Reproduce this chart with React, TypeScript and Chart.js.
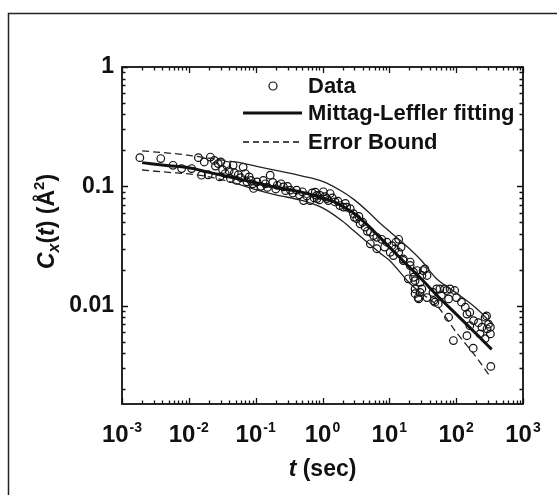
import React, { useEffect, useRef } from "react";
import { Chart, registerables } from "chart.js";
Chart.register(...registerables);

// ---- data ----
const dataT = [
  0.00185, 0.0038, 0.0058, 0.0078, 0.011, 0.0139, 0.021, 0.0155, 0.0195, 0.0275, 0.037, 0.046, 0.029, 0.042, 0.065, 0.052, 0.093, 0.074,
  0.024, 0.032, 0.035, 0.040, 0.048, 0.055, 0.06, 0.07, 0.08, 0.085, 0.09, 0.025, 0.017, 0.03,
  0.105, 0.13, 0.165, 0.21, 0.26, 0.33, 0.41, 0.52, 0.65, 0.82, 1.03, 1.16,
  0.12, 0.14, 0.15, 0.18, 0.2, 0.24, 0.28, 0.3, 0.36, 0.45, 0.5, 0.58, 0.7, 0.75, 0.9,
  0.78, 0.92, 1.09, 1.22, 1.54, 1.82, 2.05, 2.3, 2.6, 2.9, 3.26, 3.66, 4.35, 5.2, 5.8, 6.5, 7.7, 9.2, 10.9, 12.3, 13.8, 13.8, 16.2, 20.5, 26, 30.7,
  5.2, 6.5, 1.3, 0.83, 10.3, 11.5, 23, 28.8, 30.7,
  1.4, 1.7, 2.2, 3.0, 3.5, 4.0, 4.7, 8.5, 12.5, 15,
  16.2, 20.5, 24.3, 24.3, 28.8, 19.2, 23, 27.5, 32, 36.6, 46, 54, 72,
  34, 24.3, 27, 36.6, 45, 51, 57, 67, 81, 95, 101, 77, 60, 48, 120, 137, 160, 145, 182, 215, 243, 290, 305, 271, 325, 228, 160, 271, 285, 325,
  77, 91, 145, 180, 330,
];
const dataC = [
  0.174, 0.171, 0.150, 0.141, 0.141, 0.174, 0.176, 0.124, 0.125, 0.155, 0.150, 0.150, 0.120, 0.116, 0.145, 0.112, 0.096, 0.109,
  0.165, 0.138, 0.128, 0.135, 0.130, 0.125, 0.118, 0.128, 0.120, 0.112, 0.105, 0.148, 0.160, 0.160,
  0.109, 0.112, 0.124, 0.102, 0.099, 0.093, 0.093, 0.076, 0.076, 0.084, 0.090, 0.079,
  0.100, 0.105, 0.098, 0.108, 0.095, 0.105, 0.092, 0.100, 0.088, 0.085, 0.090, 0.083, 0.088, 0.080, 0.077,
  0.0895, 0.084, 0.082, 0.076, 0.074, 0.069, 0.067, 0.067, 0.065, 0.059, 0.0535, 0.0485, 0.0455, 0.0413, 0.0387, 0.0374, 0.036, 0.034, 0.0318, 0.030, 0.036, 0.028, 0.0246, 0.0232, 0.0197, 0.0179,
  0.033, 0.030, 0.087, 0.079, 0.028, 0.0263, 0.0191, 0.0157, 0.0138,
  0.080, 0.075, 0.072, 0.055, 0.056, 0.050, 0.042, 0.031, 0.034, 0.031,
  0.0239, 0.0217, 0.0162, 0.0126, 0.0129, 0.0168, 0.0173, 0.0114, 0.0197, 0.0179, 0.0110, 0.0104, 0.0134,
  0.0203, 0.0138, 0.0117, 0.0117, 0.0129, 0.0138, 0.0138, 0.0138, 0.0138, 0.0134, 0.0117, 0.0114, 0.0122, 0.0107, 0.0107, 0.0097, 0.0088, 0.0085, 0.0075, 0.0072, 0.0066, 0.0064, 0.0070, 0.0080, 0.0058, 0.0058, 0.0068, 0.0053, 0.0082, 0.0066,
  0.0080, 0.0051, 0.0056, 0.0044, 0.0031,
];

const fitT = [0.002, 0.005, 0.01, 0.02, 0.05, 0.1, 0.2, 0.5, 1, 1.5, 2, 3, 5, 7, 10, 20, 30, 50, 100, 200, 340];
const fitC = [0.158, 0.149, 0.143, 0.131, 0.117, 0.107, 0.098, 0.089, 0.080, 0.074, 0.068, 0.059, 0.046, 0.038, 0.031, 0.021, 0.0168, 0.0124, 0.0085, 0.0058, 0.0043];

const upperT = [0.002, 0.005, 0.01, 0.02, 0.05, 0.1, 0.2, 0.5, 1, 2, 3, 5, 7, 10, 20, 30, 50, 100, 200, 330];
const upperC = [0.198, 0.19, 0.182, 0.172, 0.16, 0.148, 0.136, 0.122, 0.11, 0.09, 0.077, 0.06, 0.05, 0.042, 0.03, 0.024, 0.017, 0.0128, 0.0095, 0.0072];

const lowerT = [0.002, 0.005, 0.01, 0.02, 0.05, 0.1, 0.2, 0.5, 1, 2, 3, 5, 7, 10, 20, 30, 50, 100, 200, 330];
const lowerC = [0.137, 0.131, 0.127, 0.12, 0.106, 0.094, 0.085, 0.076, 0.066, 0.051, 0.042, 0.033, 0.028, 0.024, 0.0155, 0.0127, 0.0102, 0.006, 0.0037, 0.0025];

const xTickExponents = ["-3", "-2", "-1", "0", "1", "2", "3"];
const yTickValues = [1, 0.1, 0.01];
const yTickLabels = ["1", "0.1", "0.01"];
const legendLabels = ["Data", "Mittag-Leffler fitting", "Error Bound"];

const X_MIN = 0.001, X_MAX = 1000, Y_MIN = 0.0015, Y_MAX = 1;
const FONT = "'Liberation Sans', Arial, sans-serif";

const pts = (xs: number[], ys: number[]) => xs.map((x, i) => ({ x, y: ys[i] }));

const decor = {
  id: "decor",
  afterDraw(chart: any) {
    const ctx = chart.ctx as CanvasRenderingContext2D;
    const { left, right, top, bottom } = chart.chartArea;
    const xs = chart.scales.x, ys = chart.scales.y;
    ctx.save();
    // outer frame
    ctx.strokeStyle = "#222";
    ctx.lineWidth = 1.5;
    ctx.beginPath();
    ctx.moveTo(8.5, 495);
    ctx.lineTo(8.5, 13.5);
    ctx.lineTo(557, 13.5);
    ctx.stroke();
    // axes box
    ctx.strokeStyle = "#111";
    ctx.lineWidth = 1.8;
    ctx.strokeRect(left, top, right - left, bottom - top);
    // ticks
    ctx.lineWidth = 1.3;
    ctx.beginPath();
    for (let e = -3; e <= 3; e++) {
      for (let m = 1; m <= 9; m++) {
        const v = m * Math.pow(10, e);
        if (v < X_MIN * 0.999 || v > X_MAX * 1.001) continue;
        const px = Math.round(xs.getPixelForValue(v)) + 0.5;
        const len = m === 1 ? 6 : 3.5;
        ctx.moveTo(px, bottom); ctx.lineTo(px, bottom - len);
        ctx.moveTo(px, top); ctx.lineTo(px, top + len);
      }
    }
    for (let e = -3; e <= 0; e++) {
      for (let m = 1; m <= 9; m++) {
        const v = m * Math.pow(10, e);
        if (v < Y_MIN || v > Y_MAX * 1.001) continue;
        const py = Math.round(ys.getPixelForValue(v)) + 0.5;
        const len = m === 1 ? 6 : 3.5;
        ctx.moveTo(left, py); ctx.lineTo(left + len, py);
        ctx.moveTo(right, py); ctx.lineTo(right - len, py);
      }
    }
    ctx.stroke();
    // x tick labels
    ctx.fillStyle = "#111";
    ctx.textBaseline = "alphabetic";
    ctx.textAlign = "left";
    xTickExponents.forEach((ex) => {
      const px = xs.getPixelForValue(Math.pow(10, Number(ex)));
      ctx.font = `bold 24px ${FONT}`;
      const w10 = ctx.measureText("10").width;
      ctx.font = `bold 14px ${FONT}`;
      const we = ctx.measureText(ex).width;
      const x0 = px - (w10 + we + 1) / 2;
      ctx.font = `bold 24px ${FONT}`;
      ctx.fillText("10", x0, 442);
      ctx.font = `bold 14px ${FONT}`;
      ctx.fillText(ex, x0 + w10 + 1, 432);
    });
    // y tick labels
    ctx.font = `bold 23px ${FONT}`;
    ctx.textAlign = "right";
    ctx.textBaseline = "middle";
    yTickValues.forEach((v, i) => {
      const py = ys.getPixelForValue(v);
      ctx.fillText(yTickLabels[i], left - 8, py);
    });
    // x title
    ctx.textBaseline = "alphabetic";
    ctx.textAlign = "left";
    ctx.font = `italic bold 23px ${FONT}`;
    const wt = ctx.measureText("t").width;
    ctx.font = `bold 23px ${FONT}`;
    const ws = ctx.measureText(" (sec)").width;
    const xt0 = (left + right) / 2 - (wt + ws) / 2;
    ctx.font = `italic bold 23px ${FONT}`;
    ctx.fillText("t", xt0, 476);
    ctx.font = `bold 23px ${FONT}`;
    ctx.fillText(" (sec)", xt0 + wt, 476);
    // y title (rotated)
    const segs: [string, string, number][] = [
      ["C", `italic bold 23px ${FONT}`, 0],
      ["x", `italic bold 16px ${FONT}`, 5],
      ["(", `bold 23px ${FONT}`, 0],
      ["t", `italic bold 23px ${FONT}`, 0],
      [") (Å", `bold 23px ${FONT}`, 0],
      ["2", `bold 15px ${FONT}`, -10],
      [")", `bold 23px ${FONT}`, 0],
    ];
    let total = 0;
    segs.forEach(([s, f]) => { ctx.font = f; total += ctx.measureText(s).width; });
    ctx.translate(54, (top + bottom) / 2 - 14);
    ctx.rotate(-Math.PI / 2);
    let cx = -total / 2;
    segs.forEach(([s, f, dy]) => {
      ctx.font = f;
      ctx.fillText(s, cx, dy);
      cx += ctx.measureText(s).width;
    });
    ctx.setTransform(1, 0, 0, 1, 0, 0);
    // legend
    ctx.strokeStyle = "#111";
    ctx.lineWidth = 1.2;
    ctx.beginPath();
    ctx.arc(273, 86, 4, 0, Math.PI * 2);
    ctx.stroke();
    ctx.lineWidth = 3;
    ctx.beginPath();
    ctx.moveTo(243, 113); ctx.lineTo(302, 113);
    ctx.stroke();
    ctx.lineWidth = 1.3;
    ctx.setLineDash([6, 4]);
    ctx.beginPath();
    ctx.moveTo(243, 142); ctx.lineTo(302, 142);
    ctx.stroke();
    ctx.setLineDash([]);
    ctx.font = `bold 22px ${FONT}`;
    ctx.textAlign = "left";
    ctx.textBaseline = "middle";
    ctx.fillText(legendLabels[0], 308, 87);
    ctx.fillText(legendLabels[1], 308, 114);
    ctx.fillText(legendLabels[2], 308, 143);
    ctx.restore();
  },
};

// dashes where the bound is sparsely sampled, continuous where dense
const upperDash = (c: any) => (c.p0.parsed.x < 0.03 ? [7, 4] : []);
const lowerDash = (c: any) => (c.p0.parsed.x < 0.05 || c.p0.parsed.x >= 30 ? [7, 4] : []);

export default function App() {
  const ref = useRef<HTMLCanvasElement | null>(null);
  useEffect(() => {
    if (!ref.current) return;
    const chart = new Chart(ref.current, {
      type: "scatter",
      data: {
        datasets: [
          {
            label: legendLabels[1],
            data: pts(fitT, fitC),
            showLine: true,
            borderColor: "#111",
            borderWidth: 3,
            pointRadius: 0,
            cubicInterpolationMode: "monotone",
          },
          {
            label: legendLabels[2],
            data: pts(upperT, upperC),
            showLine: true,
            borderColor: "#222",
            borderWidth: 1.3,
            segment: { borderDash: upperDash },
            pointRadius: 0,
            cubicInterpolationMode: "monotone",
          },
          {
            label: legendLabels[2] + " (lower)",
            data: pts(lowerT, lowerC),
            showLine: true,
            borderColor: "#222",
            borderWidth: 1.3,
            segment: { borderDash: lowerDash },
            pointRadius: 0,
            cubicInterpolationMode: "monotone",
          },
          {
            label: legendLabels[0],
            data: pts(dataT, dataC),
            showLine: false,
            pointRadius: 3.8,
            pointBorderWidth: 1.2,
            pointBorderColor: "#111",
            pointBackgroundColor: "rgba(255,255,255,0)",
          },
        ],
      } as any,
      options: {
        animation: false,
        responsive: false,
        layout: { padding: { left: 122, right: 34, top: 67, bottom: 91 } },
        plugins: { legend: { display: false }, tooltip: { enabled: false } },
        scales: {
          x: { type: "logarithmic", min: X_MIN, max: X_MAX, display: false },
          y: { type: "logarithmic", min: Y_MIN, max: Y_MAX, display: false },
        },
      },
      plugins: [decor],
    } as any);
    return () => chart.destroy();
  }, []);
  return (
    <div style={{ position: "fixed", left: 0, top: 0, width: 557, height: 495, background: "#fff" }}>
      <canvas ref={ref} width={557} height={495} style={{ display: "block" }} />
    </div>
  );
}
